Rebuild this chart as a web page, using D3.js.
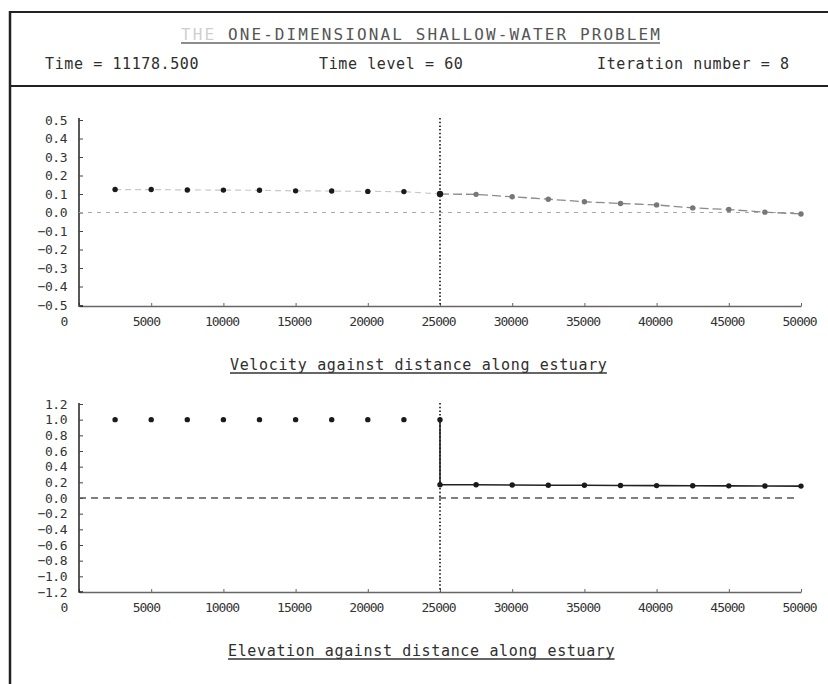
<!DOCTYPE html>
<html>
<head>
<meta charset="utf-8">
<script src="https://cdn.jsdelivr.net/npm/d3@7"></script>
<style>
  html, body { margin: 0; padding: 0; background: #fff; }
  svg { display: block; }
  text { font-family: "DejaVu Sans Mono", "Liberation Mono", monospace; fill: #2e2e2e; }
</style>
</head>
<body>
<svg id="chart" width="828" height="684"></svg>
<script>
// ---- run header ----
const titleLead = "THE";
const titleRest = " ONE-DIMENSIONAL SHALLOW-WATER PROBLEM";
const runInfo = ["Time =  11178.500", "Time level =  60", "Iteration number =  8"];

// ---- axis ticks ----
const xTicks = [0, 5000, 10000, 15000, 20000, 25000, 30000, 35000, 40000, 45000, 50000];
const velocityTicks = [0.5, 0.4, 0.3, 0.2, 0.1, 0.0, -0.1, -0.2, -0.3, -0.4, -0.5];
const elevationTicks = [1.2, 1.0, 0.8, 0.6, 0.4, 0.2, 0.0, -0.2, -0.4, -0.6, -0.8, -1.0, -1.2];

// ---- solution at this time level (distance in m) ----
const velocityDistance = [2500, 5000, 7500, 10000, 12500, 15000, 17500, 20000, 22500, 25000,
                          27500, 30000, 32500, 35000, 37500, 40000, 42500, 45000, 47500, 50000];
const velocity = [0.124, 0.124, 0.122, 0.121, 0.120, 0.117, 0.116, 0.114, 0.113, 0.100,
                  0.098, 0.085, 0.072, 0.058, 0.049, 0.041, 0.025, 0.016, 0.002, -0.008];

const elevationDistance = [2500, 5000, 7500, 10000, 12500, 15000, 17500, 20000, 22500, 25000, 25000,
                           27500, 30000, 32500, 35000, 37500, 40000, 42500, 45000, 47500, 50000];
const elevation = [1.0, 1.0, 1.0, 1.0, 1.0, 1.0, 1.0, 1.0, 1.0, 1.0, 0.170,
                   0.170, 0.166, 0.162, 0.162, 0.160, 0.158, 0.156, 0.155, 0.154, 0.152];

const gateDistance = 25000;
const captions = ["Velocity against distance along estuary", "Elevation against distance along estuary"];

const svg = d3.select("#chart");

// ---- frame ----
svg.append("line").attr("x1", 10).attr("x2", 828).attr("y1", 12).attr("y2", 12)
  .attr("stroke", "#222").attr("stroke-width", 2);
svg.append("line").attr("x1", 10).attr("x2", 828).attr("y1", 86).attr("y2", 86)
  .attr("stroke", "#222").attr("stroke-width", 2);
svg.append("line").attr("x1", 10).attr("x2", 10).attr("y1", 11).attr("y2", 684)
  .attr("stroke", "#222").attr("stroke-width", 2.5);

// underlined text helper
function underlined(x, y, parts, size, spacing, color) {
  const t = svg.append("text").attr("x", x).attr("y", y)
    .style("font-size", size + "px").style("letter-spacing", spacing + "px");
  parts.forEach(p => t.append("tspan").text(p.text).style("fill", p.fill));
  const w = t.node().getComputedTextLength();
  svg.append("line").attr("x1", x).attr("x2", x + w - spacing)
    .attr("y1", y + 3).attr("y2", y + 3)
    .attr("stroke", color).attr("stroke-width", 1.3);
  return t;
}

underlined(181, 40, [{ text: titleLead, fill: "#cfcfcf" }, { text: titleRest, fill: "#555" }], 16, 2.1, "#666");

const infoX = [45, 319, 597];
runInfo.forEach((s, i) => {
  svg.append("text").attr("x", infoX[i]).attr("y", 69)
    .style("font-size", "15px").style("letter-spacing", "0.6px").text(s);
});

// ---- shared x scale ----
const x = d3.scaleLinear().domain([0, 50000]).range([79, 801]);

function panel(opts) {
  const { y, ticks, baseline, topY, captionY, caption } = opts;
  const g = svg.append("g");

  // x axis: baseline with small ticks and left-set labels
  const xAxis = d3.axisBottom(x).tickValues(xTicks).tickSize(-3).tickPadding(11)
    .tickSizeOuter(0).tickFormat(d3.format("d"));
  const xg = g.append("g").attr("transform", `translate(0,${baseline})`).call(xAxis);
  xg.select(".domain").attr("stroke", "#666").attr("stroke-width", 1.5);
  xg.selectAll(".tick line").attr("stroke", "#666");
  xg.selectAll(".tick text").attr("text-anchor", "start").attr("x", -19)
    .style("font-size", "13px").style("letter-spacing", "-1px").style("fill", "#333");

  // y axis with inward ticks
  const yAxis = d3.axisLeft(y).tickValues(ticks).tickSize(-4).tickPadding(12)
    .tickSizeOuter(0).tickFormat(d3.format(".1f"));
  const yg = g.append("g").attr("transform", "translate(79,0)").call(yAxis);
  yg.select(".domain").attr("stroke", "#222").attr("stroke-width", 1.5)
    .attr("d", `M0,${topY}V${baseline}H4`);
  yg.selectAll(".tick line").attr("stroke", "#444");
  yg.selectAll(".tick text").style("font-size", "13px").style("letter-spacing", "-0.5px")
    .style("fill", "#333");

  // gate position: dotted vertical line
  g.append("line").attr("x1", x(gateDistance)).attr("x2", x(gateDistance))
    .attr("y1", topY).attr("y2", baseline)
    .attr("stroke", "#111").attr("stroke-width", 1.6).attr("stroke-dasharray", "1.5,2.2");

  underlined(opts.captionX, captionY, [{ text: caption, fill: "#2e2e2e" }], 15, 0.65, "#333");
  return g;
}

// ---- velocity panel ----
const yVel = d3.scaleLinear().domain([-0.5, 0.5]).range([305, 120]);
const gv = panel({ y: yVel, ticks: velocityTicks, baseline: 306, topY: 118,
  captionX: 230, captionY: 370, caption: captions[0] });

gv.append("line").attr("x1", x(0)).attr("x2", x(50000)).attr("y1", yVel(0)).attr("y2", yVel(0))
  .attr("stroke", "#aaa").attr("stroke-width", 1.2).attr("stroke-dasharray", "4,5");

const velPts = velocityDistance.map((d, i) => ({ d, v: velocity[i] }));
const velLine = d3.line().x(p => x(p.d)).y(p => yVel(p.v));
// upstream part is drawn faint, downstream part darker
gv.append("path").datum(velPts.filter(p => p.d <= gateDistance))
  .attr("d", velLine).attr("fill", "none").attr("stroke", "#c8c8c8")
  .attr("stroke-width", 1.2).attr("stroke-dasharray", "6,4");
gv.append("path").datum(velPts.filter(p => p.d >= gateDistance))
  .attr("d", velLine).attr("fill", "none").attr("stroke", "#8a8a8a")
  .attr("stroke-width", 1.3).attr("stroke-dasharray", "9,4");
gv.selectAll("circle.vel").data(velPts).join("circle").attr("class", "vel")
  .attr("cx", p => x(p.d)).attr("cy", p => yVel(p.v))
  .attr("r", p => p.d === gateDistance ? 3.2 : 2.7)
  .attr("fill", p => p.d <= gateDistance ? "#1a1a1a" : "#777");

// ---- elevation panel ----
const yElev = d3.scaleLinear().domain([-1.2, 1.2]).range([592, 404]);
const ge = panel({ y: yElev, ticks: elevationTicks, baseline: 592, topY: 403,
  captionX: 228, captionY: 656, caption: captions[1] });

ge.append("line").attr("x1", x(0)).attr("x2", x(50000) - 5).attr("y1", yElev(0)).attr("y2", yElev(0))
  .attr("stroke", "#555").attr("stroke-width", 1.3).attr("stroke-dasharray", "7,5");

const elevPts = elevationDistance.map((d, i) => ({ d, v: elevation[i] }));
ge.append("path").datum(elevPts.filter(p => p.d >= gateDistance))
  .attr("d", d3.line().x(p => x(p.d)).y(p => yElev(p.v)))
  .attr("fill", "none").attr("stroke", "#222").attr("stroke-width", 1.6);
ge.selectAll("circle.elev").data(elevPts).join("circle").attr("class", "elev")
  .attr("cx", p => x(p.d)).attr("cy", p => yElev(p.v)).attr("r", 2.7)
  .attr("fill", "#1a1a1a");
</script>
</body>
</html>
